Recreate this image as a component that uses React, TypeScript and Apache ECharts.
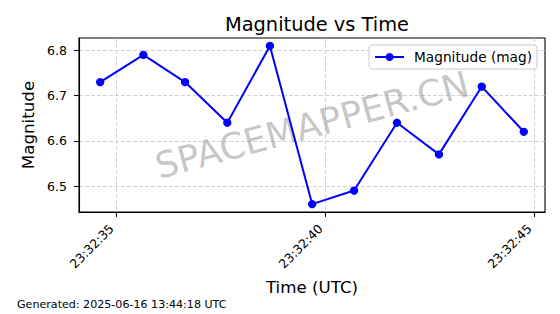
import React, { useEffect, useRef } from "react";
import * as echarts from "echarts";

const obsTimes = [
  "23:32:34.618", "23:32:35.652", "23:32:36.649", "23:32:37.660",
  "23:32:38.680", "23:32:39.690", "23:32:40.694", "23:32:41.720",
  "23:32:42.725", "23:32:43.750", "23:32:44.756",
];
const magnitudes = [6.73, 6.79, 6.73, 6.64, 6.81, 6.46, 6.49, 6.64, 6.57, 6.72, 6.62];
const xTickLabels = ["23:32:35", "23:32:40", "23:32:45"];
const yTickValues = [6.5, 6.6, 6.7, 6.8];

const seriesName = "Magnitude (mag)";
const titleText = "Magnitude vs Time";
const footerText = "Generated: 2025-06-16 13:44:18 UTC";
const watermarkText = "SPACEMAPPER.CN";

const FONT = "DejaVu Sans";

function toSeconds(s: string): number {
  const [h, m, sec] = s.split(":");
  return Number(h) * 3600 + Number(m) * 60 + Number(sec);
}
function fmt(v: number): string {
  const t = Math.round(v);
  const h = Math.floor(t / 3600);
  const m = Math.floor((t % 3600) / 60);
  const s = t % 60;
  const p = (n: number) => String(n).padStart(2, "0");
  return `${p(h)}:${p(m)}:${p(s)}`;
}

export default function App() {
  const ref = useRef<HTMLDivElement>(null);
  useEffect(() => {
    if (!ref.current) return;
    const chart = echarts.init(ref.current, undefined, { renderer: "svg" });
    const xs = obsTimes.map(toSeconds);
    const xMinD = Math.min(...xs), xMaxD = Math.max(...xs);
    const xPad = (xMaxD - xMinD) * 0.05;
    const yMinD = Math.min(...magnitudes), yMaxD = Math.max(...magnitudes);
    const yPad = (yMaxD - yMinD) * 0.05;
    const xTickVals = xTickLabels.map(toSeconds);

    const axisText = { color: "#000", fontFamily: FONT, fontSize: 12.5 };
    const gridLine = { show: true, lineStyle: { color: "#c8c8c8", width: 0.8, type: [4, 2] as any } };

    chart.setOption({
      animation: false,
      backgroundColor: "#fff",
      title: {
        text: titleText,
        left: 312,
        textAlign: "center",
        top: 10,
        textStyle: { fontFamily: FONT, fontSize: 19.4, fontWeight: "normal", color: "#000" },
      },
      grid: {
        left: 79, right: 15, top: 38, bottom: 102,
        show: true, borderColor: "#000", borderWidth: 1.1,
        containLabel: false, outerBoundsMode: "none",
      },
      legend: {
        data: [seriesName],
        right: 23,
        top: 45,
        padding: [5, 5, 5, 5],
        itemWidth: 29,
        itemHeight: 10,
        itemGap: 5,
        backgroundColor: "rgba(255,255,255,0.8)",
        borderColor: "#cccccc",
        borderWidth: 1,
        borderRadius: 3,
        textStyle: { fontFamily: FONT, fontSize: 13.7, color: "#000", padding: [0, 0, 0, 5] },
      },
      xAxis: {
        type: "value",
        min: xMinD - xPad,
        max: xMaxD + xPad,
        name: "Time (UTC)",
        nameLocation: "middle",
        nameGap: 66,
        nameTextStyle: { fontFamily: FONT, fontSize: 16.7, color: "#000" },
        axisLine: { show: true, onZero: false, lineStyle: { color: "#000", width: 1.1 } },
        axisTick: { show: true, length: 4.9, lineStyle: { color: "#000", width: 1.1 }, customValues: xTickVals },
        axisLabel: {
          ...axisText, rotate: 45, margin: 19, align: "right", verticalAlign: "bottom",
          customValues: xTickVals, formatter: (v: number) => fmt(v),
        },
        splitLine: gridLine,
      },
      yAxis: {
        type: "value",
        min: yMinD - yPad,
        max: yMaxD + yPad,
        name: "Magnitude",
        nameLocation: "middle",
        nameGap: 38,
        nameRotate: 90,
        nameTextStyle: { fontFamily: FONT, fontSize: 16.7, color: "#000" },
        axisLine: { show: true, onZero: false, lineStyle: { color: "#000", width: 1.1 } },
        axisTick: { show: true, length: 4.9, lineStyle: { color: "#000", width: 1.1 }, customValues: yTickValues },
        axisLabel: { ...axisText, margin: 12, customValues: yTickValues, formatter: (v: number) => v.toFixed(1) },
        splitLine: gridLine,
      },
      graphic: [
        {
          type: "text",
          x: 312,
          y: 125,
          rotation: (15 * Math.PI) / 180,
          silent: true,
          z: 1,
          style: {
            text: watermarkText,
            fontFamily: FONT,
            fontSize: 36,
            fill: "gray",
            opacity: 0.45,
            align: "center",
            verticalAlign: "middle",
          },
        },
        {
          type: "text",
          left: 17,
          top: 299,
          style: { text: footerText, fontFamily: FONT, fontSize: 11.1, fill: "#000" },
        },
      ],
      series: [
        {
          name: seriesName,
          type: "line",
          data: xs.map((x, i) => [x, magnitudes[i]]),
          symbol: "circle",
          symbolSize: 8.3,
          showSymbol: true,
          lineStyle: { color: "#0000ff", width: 2 },
          itemStyle: { color: "#0000ff" },
          z: 3,
        },
      ],
    });
    return () => chart.dispose();
  }, []);
  return (
    <div
      ref={ref}
      style={{ position: "absolute", left: 0, top: 0, width: 560, height: 314 }}
    />
  );
}
